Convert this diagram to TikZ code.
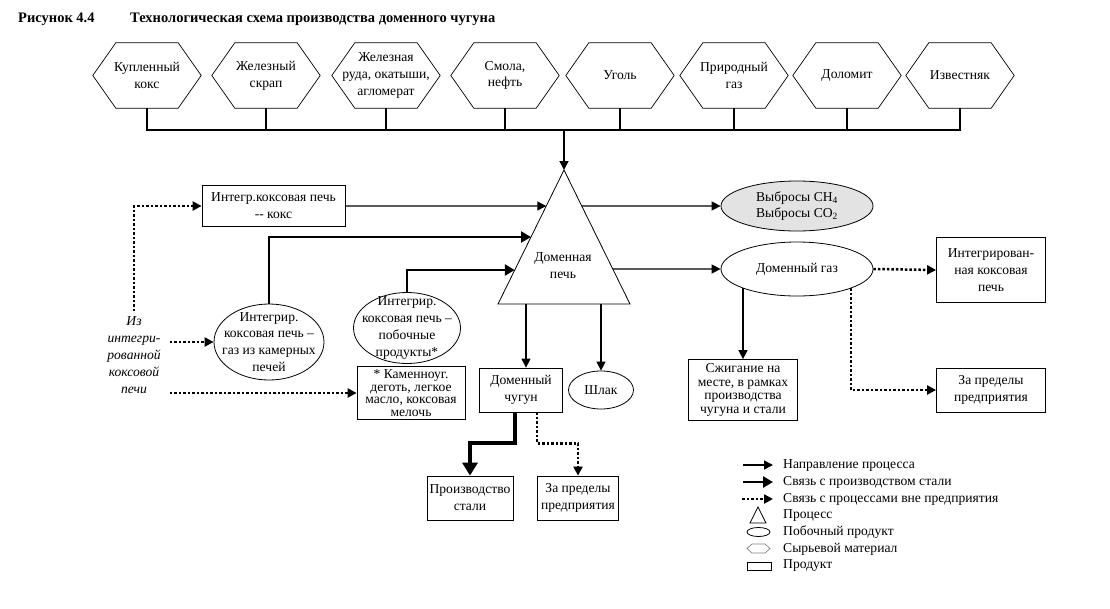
\documentclass[tikz,border=0pt]{standalone}
\usepackage{fontspec}
\setmainfont{Liberation Serif}
\usetikzlibrary{arrows.meta,shapes.geometric,calc}

\begin{document}
\begin{tikzpicture}[x=1pt,y=-1pt,font=\fontsize{13.6}{16.8}\selectfont]
    \tikzstyle{material}=[rectangle,minimum width=108pt,minimum height=65pt,inner sep=0pt,align=center]
    \tikzstyle{product}=[rectangle,draw,line width=0.8pt,inner sep=1pt,align=center]
    \tikzstyle{byproduct}=[ellipse,draw,line width=0.8pt,inner sep=0pt,align=center]
    \tikzstyle{process}=[draw,line width=0.8pt]
    \tikzstyle{flow}=[-{Triangle[length=9pt,width=9pt]},line width=1.4pt]
    \tikzstyle{steel}=[-{Triangle[length=10pt,width=11pt]},line width=2.6pt]
    \tikzstyle{steelmain}=[-{Triangle[length=13pt,width=15pt]},line width=4pt]
    \tikzstyle{outside}=[-{Triangle[length=9pt,width=9pt]},line width=2.5pt,dash pattern=on 2.5pt off 2pt]
    \tikzstyle{legendtext}=[anchor=west,inner sep=0pt,font=\fontsize{13.6}{16}\selectfont]

    \useasboundingbox (0,0) rectangle (1110,608);

    % Title
    \node[anchor=base west,inner sep=0pt,font=\bfseries\fontsize{14.5}{17}\selectfont] (fig) at (18,22) {Рисунок 4.4};
    \node[anchor=base west,inner sep=0pt,font=\bfseries\fontsize{14.5}{17}\selectfont] (title) at (130,22) {Технологическая схема производства доменного чугуна};

    % Raw materials
    \coordinate (bus) at (0,130);
    \foreach \name/\x/\txt in {h1/147/{Купленный\\кокс}, h2/266/{Железный\\скрап},
        h3/386/{Железная\\руда, окатыши,\\агломерат}, h4/505/{Смола,\\нефть},
        h5/620/{Уголь}, h6/734/{Природный\\газ}, h7/847/{Доломит}, h8/960/{Известняк}}
    {
        \node[material] (\name) at (\x,75.5) {\txt};
        \draw[line width=0.7pt] (\name.west) -- ([xshift=23pt]\name.north west) -- ([xshift=-23pt]\name.north east)
            -- (\name.east) -- ([xshift=-23pt]\name.south east) -- ([xshift=23pt]\name.south west) -- cycle;
    }
    \draw[line width=2.4pt] (h1.south) |- (h8.south |- bus) -- (h8.south);
    \foreach \name in {h2,h3,h4,h5,h6,h7}
        \draw[line width=2.4pt] (\name.south) -- (\name.south |- bus);

    % Blast furnace
    \coordinate (apex) at (564,170);
    \coordinate (bl) at (498,304);
    \coordinate (br) at (630,304);
    \draw[process] (apex) -- (bl) -- (br) -- cycle;
    \node[align=center] (furnace) at (563,266) {Доменная\\печь};
    \coordinate (in1) at ($(apex)!0.2687!(bl)$);
    \coordinate (in2) at ($(apex)!0.5!(bl)$);
    \coordinate (in3) at ($(apex)!0.7463!(bl)$);
    \coordinate (out1) at ($(apex)!0.2687!(br)$);
    \coordinate (out2) at ($(apex)!0.7388!(br)$);
    \draw[flow] (apex |- bus) -- (apex);

    % Coke oven side
    \node[product,minimum width=143pt,minimum height=41pt] (cokebox) at (273.5,206) {Интегр.коксовая печь\\-{}- кокс};
    \node[inner xsep=1pt,inner ysep=5pt,anchor=north,align=center,font=\itshape\fontsize{13.6}{17}\selectfont] (src) at (134,311)
        {Из\\интегри-\\рованной\\коксовой\\печи};
    \node[byproduct,minimum width=110pt,minimum height=76pt,inner xsep=-12pt,inner ysep=-8pt] (cokegas) at (269,342)
        {Интегрир.\\коксовая печь –\\газ из камерных\\печей};
    \node[byproduct,minimum width=107pt,minimum height=71pt,inner xsep=-12pt,inner ysep=-9pt] (byprod) at (407,328)
        {Интегрир.\\коксовая печь –\\побочные\\продукты*};
    \node[product,minimum width=108pt,minimum height=53pt,font=\fontsize{13.6}{12.5}\selectfont] (tar) at (411,393)
        {* Каменноуг.\\деготь, легкое\\масло, коксовая\\мелочь};

    % Furnace outputs
    \node[product,minimum width=83pt,minimum height=44pt] (pig) at (521,390) {Доменный\\чугун};
    \node[byproduct,minimum width=65pt,minimum height=38pt] (slag) at (601,390) {Шлак};
    \node[byproduct,fill=gray!22,minimum width=152pt,minimum height=50pt] (emis) at (797,206)
        {Выбросы CH\textsubscript{4}\\Выбросы CO\textsubscript{2}};
    \node[byproduct,minimum width=152pt,minimum height=54pt] (blastgas) at (797,269) {Доменный газ};
    \node[product,minimum width=109pt,minimum height=65pt] (cokeplant) at (991,270) {Интегрирован-\\ная коксовая\\печь};
    \node[product,minimum width=109pt,minimum height=61pt,font=\fontsize{13.6}{13.5}\selectfont] (burn) at (743,390)
        {Сжигание на\\месте, в рамках\\производства\\чугуна и стали};
    \node[product,minimum width=109pt,minimum height=44pt] (ext1) at (991,390) {За пределы\\предприятия};
    \node[product,minimum width=86pt,minimum height=44pt] (steelmk) at (470,498) {Производство\\стали};
    \node[product,minimum width=81pt,minimum height=44pt] (ext2) at (578,498) {За пределы\\предприятия};

    % Connections
    \draw[flow] (cokebox.east) -- (in1);
    \draw[outside] (src.north) |- (cokebox.west);
    \draw[outside] ([xshift=8pt]src.east |- cokegas.west) -- (cokegas.west);
    \draw[outside] ([xshift=8pt]src.east |- tar.west) -- (tar.west);
    \draw[steel] (cokegas.north) |- (in2);
    \draw[steel] (byprod.north) |- (in3);
    \draw[flow] (out1) -- (emis.west);
    \draw[flow] (out2) -- (blastgas.west);
    \draw[flow] ([xshift=5pt]pig.north |- bl) -- ([xshift=5pt]pig.north);
    \draw[flow] (slag.north |- bl) -- (slag.north);
    \draw[outside] (blastgas.east) -- (cokeplant.west);
    \draw[flow] (blastgas.south west) -- (blastgas.south west |- burn.north);
    \draw[outside] (blastgas.south east) |- (ext1.west);
    \draw[steelmain] ([xshift=-6pt]pig.south) -- ++(0,31) -| (steelmk.north);
    \draw[outside] ([xshift=16pt]pig.south) -- ++(0,31) -| (ext2.north);

    % Legend
    \node[legendtext] (lg1) at (783,465) {Направление процесса};
    \node[legendtext] (lg2) at (783,482) {Связь с производством стали};
    \node[legendtext] (lg3) at (783,499) {Связь с процессами вне предприятия};
    \node[legendtext] (lg4) at (783,515) {Процесс};
    \node[legendtext] (lg5) at (783,532) {Побочный продукт};
    \node[legendtext] (lg6) at (783,549) {Сырьевой материал};
    \node[legendtext] (lg7) at (783,566) {Продукт};
    \draw[flow] ([xshift=-40pt]lg1.west) -- ([xshift=-10pt]lg1.west);
    \draw[steel] ([xshift=-40pt]lg2.west) -- ([xshift=-10pt]lg2.west);
    \draw[outside] ([xshift=-41pt]lg3.west) -- ([xshift=-10pt]lg3.west);
    \draw[process] (758,507) -- (750,523) -- (766,523) -- cycle;
    \draw[process] (758.5,532) ellipse (11.5pt and 4.5pt);
    \draw[gray,line width=0.7pt] (747,548.5) -- (752,544) -- (765,544) -- (770,548.5) -- (765,553) -- (752,553) -- cycle;
    \draw[process] (747,562) rectangle (771,570);
\end{tikzpicture}
\end{document}
